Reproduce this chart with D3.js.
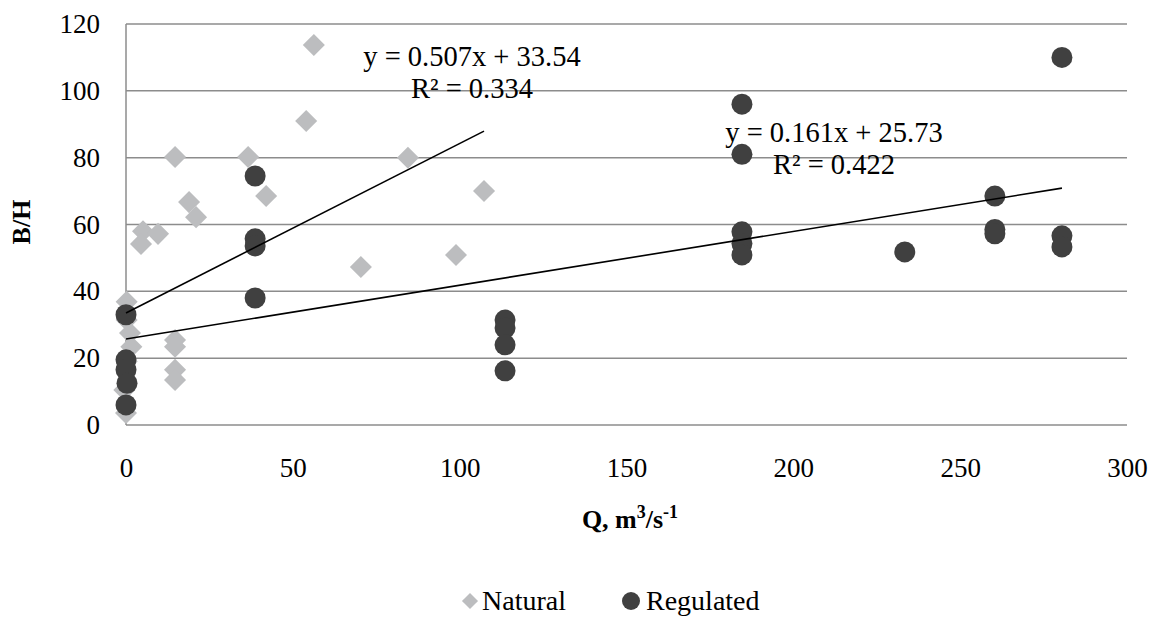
<!DOCTYPE html>
<html><head><meta charset="utf-8">
<script src="https://cdn.jsdelivr.net/npm/d3@7"></script>
<style>body{margin:0;background:#fff}svg{display:block}svg text{font-family:"Liberation Serif","Times New Roman",serif !important;fill:#000}</style>
</head><body><svg id="c" width="1154" height="617"></svg>
<script>
const naturalQ = [56.3, 54, 14.7, 36.6, 84.5, 107.3, 18.9, 42, 21, 5.1, 4.5, 9.6, 70.4, 98.9, 0.2, 0.2, 1.2, 1.6, 0.2, -0.5, 0, 14.7, 14.7, 14.7, 14.7];
const naturalBH = [113.7, 91, 80.2, 80.2, 80, 70, 66.7, 68.5, 62.2, 58, 54.2, 57.2, 47.3, 50.9, 36.9, 31.4, 27.5, 23.4, 19, 10.5, 3.6, 25.4, 23.4, 16.5, 13.5];
const regulatedQ = [280.5, 184.6, 184.6, 38.7, 38.7, 38.7, 38.7, 0, 184.6, 184.6, 184.6, 233.4, 260.4, 260.4, 260.4, 113.6, 113.6, 113.6, 113.6, 280.5, 280.5, 0, 0, 0.3, 0];
const regulatedBH = [110, 96, 81, 74.5, 55.7, 53.6, 38, 33, 57.8, 54.3, 50.9, 51.8, 68.5, 58.5, 57.2, 31.4, 29, 24, 16.2, 56.6, 53.3, 19.5, 16.5, 12.5, 6];
const xTicks = [0, 50, 100, 150, 200, 250, 300];
const yTicks = [0, 20, 40, 60, 80, 100, 120];
const naturalFit = {slope: 0.507, intercept: 33.54, xMin: 0, xMax: 107.3, label1: "y = 0.507x + 33.54", label2: "R² = 0.334"};
const regulatedFit = {slope: 0.161, intercept: 25.73, xMin: 0, xMax: 280.5, label1: "y = 0.161x + 25.73", label2: "R² = 0.422"};

const svg = d3.select("#c");
const L = 126, R = 1127, T = 24, B = 425;
const x = d3.scaleLinear().domain([0, 300]).range([L, R]);
const y = d3.scaleLinear().domain([0, 120]).range([B, T]);

// gridlines
svg.append("g").selectAll("line").data(yTicks).join("line")
  .attr("x1", L).attr("x2", R).attr("y1", d => y(d)).attr("y2", d => y(d))
  .attr("stroke", "#8c8c8c").attr("stroke-width", 1.5);
svg.append("line").attr("x1", L).attr("x2", L).attr("y1", T).attr("y2", B).attr("stroke", "#8c8c8c").attr("stroke-width", 1.5);

// tick labels
const yAxis = d3.axisLeft(y).tickValues(yTicks).tickSize(0).tickPadding(26);
const gy = svg.append("g").attr("transform", `translate(${L},0)`).call(yAxis).attr("font-family", null).attr("font-size", null);
gy.select(".domain").remove();
gy.selectAll("text").attr("font-size", 27).attr("fill", "#000");
const xAxis = d3.axisBottom(x).tickValues(xTicks).tickSize(0).tickPadding(33);
const gx = svg.append("g").attr("transform", `translate(0,${B})`).call(xAxis).attr("font-family", null).attr("font-size", null);
gx.select(".domain").remove();
gx.selectAll("text").attr("font-size", 27).attr("fill", "#000");

// points
const nat = naturalQ.map((q, i) => [q, naturalBH[i]]);
const reg = regulatedQ.map((q, i) => [q, regulatedBH[i]]);
const diamond = d3.symbol().type(d3.symbolDiamond2).size(310);
svg.append("g").selectAll("path").data(nat).join("path")
  .attr("d", diamond).attr("transform", d => `translate(${x(d[0])},${y(d[1])})`)
  .attr("fill", "#bcbdbf");
svg.append("g").selectAll("circle").data(reg).join("circle")
  .attr("cx", d => x(d[0])).attr("cy", d => y(d[1])).attr("r", 10.5)
  .attr("fill", "#404040");

// trendlines
[naturalFit, regulatedFit].forEach(f => {
  svg.append("line")
    .attr("x1", x(f.xMin)).attr("y1", y(f.slope * f.xMin + f.intercept))
    .attr("x2", x(f.xMax)).attr("y2", y(f.slope * f.xMax + f.intercept))
    .attr("stroke", "#000").attr("stroke-width", 1.6);
});

// equation labels
function eq(f, cx, y1, y2) {
  svg.append("text").attr("x", cx).attr("y", y1).attr("text-anchor", "middle").attr("font-size", 28.5).text(f.label1);
  svg.append("text").attr("x", cx).attr("y", y2).attr("text-anchor", "middle").attr("font-size", 28.5).text(f.label2);
}
eq(naturalFit, 472, 66, 98);
eq(regulatedFit, 834, 142, 174);

// axis titles
svg.append("text").attr("transform", `translate(30,222) rotate(-90)`).attr("text-anchor", "middle")
  .attr("font-size", 26).attr("font-weight", "bold").text("B/H");
const xt = svg.append("text").attr("x", 630).attr("y", 528).attr("text-anchor", "middle")
  .attr("font-size", 26).attr("font-weight", "bold");
xt.append("tspan").text("Q, m");
xt.append("tspan").attr("dy", -10).attr("font-size", 18).text("3");
xt.append("tspan").attr("dy", 10).text("/s");
xt.append("tspan").attr("dy", -10).attr("font-size", 18).text("-1");

// legend
const lg = svg.append("g");
lg.append("path").attr("d", d3.symbol().type(d3.symbolDiamond2).size(165)).attr("transform", "translate(470,601)").attr("fill", "#bcbdbf");
lg.append("text").attr("x", 482).attr("y", 610).attr("font-size", 28).text("Natural");
lg.append("circle").attr("cx", 631).attr("cy", 601).attr("r", 9).attr("fill", "#404040");
lg.append("text").attr("x", 646).attr("y", 610).attr("font-size", 28).text("Regulated");
</script></body></html>
